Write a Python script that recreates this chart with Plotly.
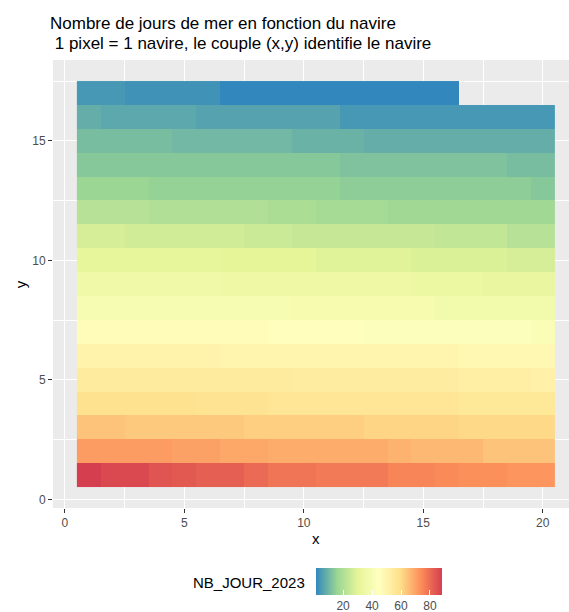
import plotly.graph_objects as go

# ---- data ----
x_vals = list(range(1, 21))
y_vals = list(range(1, 18))

row_01 = [88, 86, 86, 84, 83, 82, 82, 80, 78, 78, 77, 77, 77, 75, 75, 74, 73, 73, 72, 72]
row_02 = [71, 71, 71, 71, 70, 70, 69, 69, 68, 68, 68, 68, 68, 67, 66, 66, 66, 64, 64, 64]
row_03 = [64, 64, 63, 63, 63, 63, 63, 62, 62, 62, 62, 62, 61, 61, 61, 61, 60, 60, 60, 60]
row_04 = [58, 58, 58, 58, 58, 57, 57, 57, 56, 56, 56, 56, 56, 56, 56, 56, 55, 55, 55, 55]
row_05 = [54, 54, 54, 54, 54, 54, 54, 54, 54, 53, 53, 53, 53, 53, 53, 53, 52, 52, 52, 51]
row_06 = [50, 50, 50, 50, 50, 50, 49, 49, 49, 49, 49, 49, 49, 49, 49, 49, 48, 48, 48, 48]
row_07 = [46, 46, 46, 46, 46, 46, 46, 46, 45, 45, 45, 45, 43, 43, 43, 43, 43, 43, 43, 41]
row_08 = [40, 40, 40, 40, 40, 40, 40, 40, 40, 39, 39, 39, 39, 39, 39, 37, 37, 37, 37, 37]
row_09 = [36, 36, 36, 36, 36, 36, 35, 35, 35, 35, 35, 35, 35, 35, 34, 34, 34, 33, 33, 33]
row_10 = [31, 31, 31, 31, 31, 31, 30, 30, 30, 30, 29, 29, 29, 29, 28, 28, 28, 28, 27, 27]
row_11 = [27, 27, 26, 26, 26, 26, 26, 25, 25, 24, 24, 24, 24, 24, 24, 23, 23, 23, 21, 21]
row_12 = [21, 21, 21, 20, 20, 20, 20, 20, 19, 19, 18, 18, 18, 17, 17, 17, 17, 17, 17, 17]
row_13 = [16, 16, 16, 15, 15, 15, 15, 15, 15, 15, 15, 14, 14, 14, 14, 14, 14, 14, 14, 13]
row_14 = [13, 13, 13, 13, 13, 13, 13, 13, 13, 13, 13, 12, 12, 12, 12, 12, 12, 12, 11, 11]
row_15 = [11, 11, 11, 11, 10, 10, 10, 10, 10, 9, 9, 9, 8, 8, 8, 8, 8, 8, 8, 8]
row_16 = [8, 7, 7, 7, 7, 6, 6, 6, 6, 6, 6, 4, 4, 4, 4, 4, 4, 4, 4, 4]
row_17 = [4, 4, 3, 3, 3, 3, 1, 1, 1, 1, 1, 1, 1, 1, 1, 1]

legend_ticks = [20, 40, 60, 80]

rows = [row_01, row_02, row_03, row_04, row_05, row_06, row_07, row_08, row_09,
        row_10, row_11, row_12, row_13, row_14, row_15, row_16, row_17]
z = [r + [None] * (len(x_vals) - len(r)) for r in rows]

spectral_rev = ['#3288BD', '#99D594', '#E6F598', '#FFFFBF', '#FEE08B', '#FC8D59', '#D53E4F']
colorscale = [[i / (len(spectral_rev) - 1), c] for i, c in enumerate(spectral_rev)]

W, H = 569, 612
PL, PR_PIX, PT, PB_PIX = 52.7, 569.0, 60.3, 507.7

fig = go.Figure(go.Heatmap(
    x=x_vals, y=y_vals, z=z,
    colorscale=colorscale,
    hoverongaps=False,
    colorbar=dict(
        orientation='h',
        xref='container', yref='container',
        x=348 / W, xanchor='left',
        y=(H - 568) / H, yanchor='top',
        lenmode='pixels', len=126,
        thickness=27,
        xpad=0, ypad=0,
        outlinewidth=0,
        tickvals=legend_ticks,
        ticks='inside', ticklen=5, tickcolor='white', tickwidth=1,
        tickfont=dict(family='Liberation Sans, Arial, sans-serif', size=12, color='#4D4D4D'),
    ),
))

font_fam = 'Liberation Sans, Arial, sans-serif'
axis_common = dict(
    showline=False, zeroline=False,
    gridcolor='white', gridwidth=1.1,
    ticks='outside', ticklen=4, tickcolor='#333333', tickwidth=1,
    tickfont=dict(family=font_fam, size=12, color='#4D4D4D'),
    dtick=5, tick0=0,
    minor=dict(showgrid=True, gridcolor='white', gridwidth=0.5, dtick=2.5, tick0=0, ticks=''),
)

fig.update_layout(
    width=W, height=H,
    margin=dict(l=PL, r=W - PR_PIX, t=PT, b=H - PB_PIX, pad=0, autoexpand=False),
    paper_bgcolor='white', plot_bgcolor='#EBEBEB',
    xaxis=dict(range=[-0.5, 21.1], **axis_common),
    yaxis=dict(range=[-0.36, 18.38], **axis_common),
    showlegend=False,
)

def px_to_paper_x(px):
    return (px - PL) / (PR_PIX - PL)

def px_to_paper_y(py):
    return (PB_PIX - py) / (PB_PIX - PT)

annos = [
    dict(text='Nombre de jours de mer en fonction du navire', x=px_to_paper_x(48), y=px_to_paper_y(24),
         xanchor='left', yanchor='middle', font=dict(size=17, color='black', family=font_fam)),
    dict(text='\u00a01 pixel = 1 navire, le couple (x,y) identifie le navire', x=px_to_paper_x(48), y=px_to_paper_y(44),
         xanchor='left', yanchor='middle', font=dict(size=17, color='black', family=font_fam)),
    dict(text='x', x=px_to_paper_x(315.7), y=px_to_paper_y(538), xanchor='center', yanchor='middle',
         font=dict(size=15, color='black', family=font_fam)),
    dict(text='y', x=px_to_paper_x(20), y=px_to_paper_y(284), xanchor='center', yanchor='middle',
         textangle=-90, font=dict(size=15, color='black', family=font_fam)),
    dict(text='NB_JOUR_2023', x=px_to_paper_x(307), y=px_to_paper_y(582), xanchor='right', yanchor='middle',
         font=dict(size=15, color='black', family=font_fam)),
]
for a in annos:
    a.update(xref='paper', yref='paper', showarrow=False)
fig.update_layout(annotations=annos)

fig.write_html('out.html', config={'displayModeBar': False},
               post_script="document.body.style.margin='0';document.body.style.overflow='hidden';")
